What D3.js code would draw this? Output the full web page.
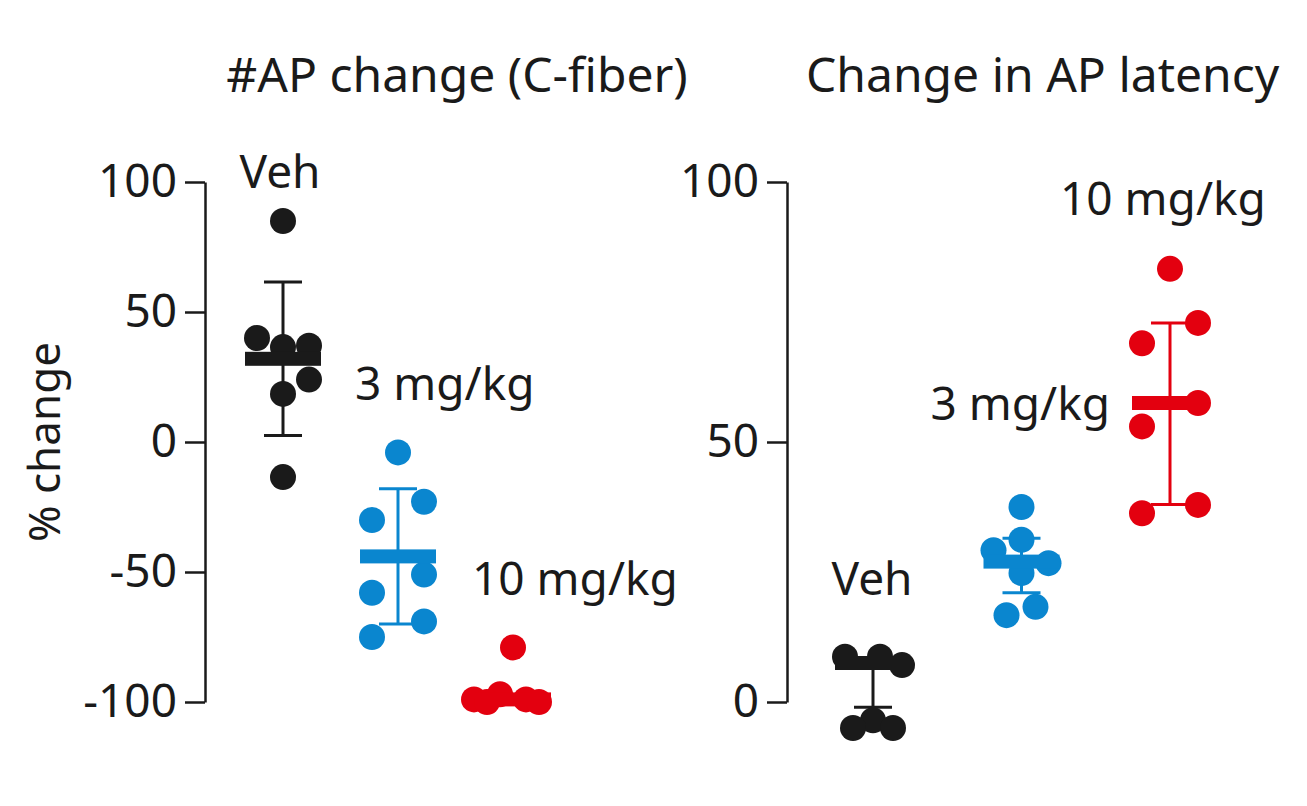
<!DOCTYPE html>
<html lang="en">
<head>
<meta charset="UTF-8"/>
<title>AP change</title>
<script src="https://d3js.org/d3.v7.min.js"></script>
<style>
  body { margin: 0; background: #fff; }
  text { font-family: "Noto Sans", "Open Sans", sans-serif; fill: #1a1a1a; }
  .axis path, .axis line { stroke: #1a1a1a; stroke-width: 2.5px; }
</style>
</head>
<body>
<script>
var w = 1307, h = 806;

var groups = ["Veh", "3 mg/kg", "10 mg/kg"];
var colors = ["#1a1a1a", "#0a86cf", "#e3000f"];

// panel 1: #AP change (C-fiber)
var apVeh = [85, 40, 36.5, 37, 24, 18.5, -13.5];
var ap3 = [-4, -23, -30, -51, -58, -69, -75];
var ap10 = [-79, -99, -97, -99, -100, -100];
var apMean = [32, -44, -99];
var apSd = [29.5, 26, 0];
var apTicks = [100, 50, 0, -50, -100];

// panel 2: change in AP latency
var latVeh = [8.7, 8.7, 7.1, -3.5, -5, -5];
var lat3 = [37.5, 29.2, 31.2, 26.7, 24.8, 16.7, 18.3];
var lat10 = [83.3, 72.9, 69, 57.5, 53, 36.3, 37.9];
var latMean = [7.5, 27, 57.5];
var latSdUp = [0, 4.5, 15.4];
var latSdDown = [8.5, 6, 19.5];
var latTicks = [100, 50, 0];

var svg = d3.select("body").append("svg").attr("width", w).attr("height", h);

function panel(cfg) {
  var y = d3.scaleLinear().domain(cfg.domain).range([702, 182]);
  var x = d3.scalePoint().domain(groups).range(cfg.xr);
  var g = svg.append("g");
  g.append("g").attr("class", "axis")
    .attr("transform", "translate(" + cfg.axisX + ",0)")
    .call(d3.axisLeft(y).tickValues(cfg.ticks).tickSize(20).tickSizeOuter(0).tickPadding(8)
      .tickFormat(function(d) { return String(d); }))
    .call(function(a) { a.selectAll("text").style("font-size", "46px").style("font-family", "Noto Sans"); });

  cfg.data.forEach(function(vals, i) {
    var cx = x(groups[i]), col = colors[i];
    var offs = cfg.offs[i];
    var top = cfg.mean[i] + cfg.up[i], bot = cfg.mean[i] - cfg.down[i];
    if (top !== bot) {
      g.append("line").attr("x1", cx).attr("x2", cx).attr("y1", y(top)).attr("y2", y(bot))
        .attr("stroke", col).attr("stroke-width", 3);
    }
    [top, bot].forEach(function(v) {
      if (v === cfg.mean[i]) return;
      g.append("line").attr("x1", cx - 19).attr("x2", cx + 19).attr("y1", y(v)).attr("y2", y(v))
        .attr("stroke", col).attr("stroke-width", 3);
    });
    g.selectAll(null).data(vals).enter().append("circle")
      .attr("cx", function(d, j) { return cx + offs[j]; })
      .attr("cy", function(d) { return y(d); })
      .attr("r", 13).attr("fill", col);
    g.append("rect").attr("x", cx - 38).attr("width", 76)
      .attr("y", y(cfg.mean[i]) - 7).attr("height", 14).attr("fill", col);
  });
  return g;
}

panel({
  domain: [-100, 100], xr: [283, 513], axisX: 205, ticks: apTicks,
  data: [apVeh, ap3, ap10], mean: apMean, up: apSd, down: apSd,
  offs: [[0, -26, 0, 26, 26, 0, 0], [0, 26, -26, 26, -26, 26, -26], [0, -39, -13, 13, 26, -26]]
});

panel({
  domain: [0, 100], xr: [873, 1170], axisX: 787, ticks: latTicks,
  data: [latVeh, lat3, lat10], mean: latMean, up: latSdUp, down: latSdDown,
  offs: [[-28, 7, 29, 0, -20, 20], [0, -28, 0, 27, 0, -15, 14], [0, 28, -28, 28, -28, -28, 28]]
});

// titles and labels
svg.append("text").attr("x", 457).attr("y", 92).attr("text-anchor", "middle")
  .style("font-size", "48px").text("#AP change (C-fiber)");
svg.append("text").attr("x", 806).attr("y", 92)
  .style("font-size", "48px").text("Change in AP latency");
svg.append("text").attr("transform", "translate(60,442) rotate(-90)").attr("text-anchor", "middle")
  .style("font-size", "44px").text("% change");

var labels = [
  { t: "Veh", x: 280, y: 188, a: "middle" },
  { t: "3 mg/kg", x: 355, y: 400, a: "start" },
  { t: "10 mg/kg", x: 472, y: 595, a: "start" },
  { t: "Veh", x: 872, y: 595, a: "middle" },
  { t: "3 mg/kg", x: 1110, y: 420, a: "end" },
  { t: "10 mg/kg", x: 1060, y: 215, a: "start" }
];
svg.selectAll(null).data(labels).enter().append("text")
  .attr("x", function(d) { return d.x; }).attr("y", function(d) { return d.y; })
  .attr("text-anchor", function(d) { return d.a; })
  .style("font-size", "46px").text(function(d) { return d.t; });
</script>
</body>
</html>
